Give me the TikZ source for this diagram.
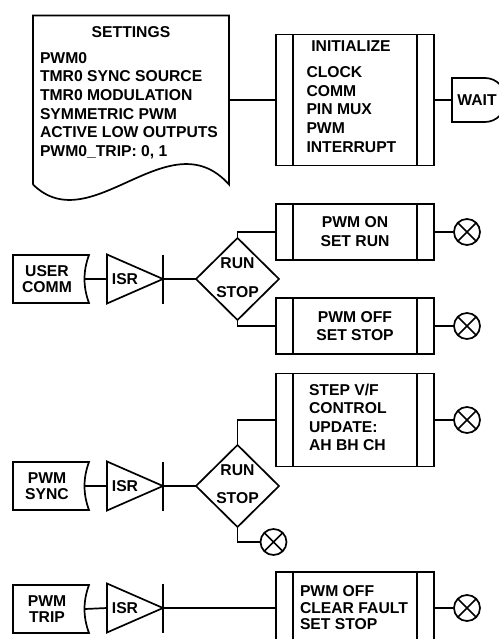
\documentclass[tikz,border=0pt]{standalone}
\usepackage{fontspec}
\setmainfont{Liberation Sans}
\usetikzlibrary{shapes.geometric}

\begin{document}
\begin{tikzpicture}[x=1pt, y=-1pt, line width=1.7pt, every node/.style={inner sep=0pt, outer sep=0pt, font=\fontsize{15.7}{18.6}\selectfont\bfseries}, proc/.style={draw, minimum width=158pt, path picture={\draw ([xshift=17pt]path picture bounding box.north west) -- ([xshift=17pt]path picture bounding box.south west) ([xshift=-17pt]path picture bounding box.north east) -- ([xshift=-17pt]path picture bounding box.south east);}}, tag/.style={minimum width=68pt, minimum height=48pt, align=center, font=\fontsize{15.7}{16.3}\selectfont\bfseries}, isr/.style={draw, isosceles triangle, isosceles triangle stretches, shape border rotate=0, minimum width=49pt, minimum height=56pt, anchor=lower side}, dec/.style={draw, diamond, minimum width=83pt, minimum height=82pt}, endx/.style={draw, circle, minimum size=26pt}]
	\useasboundingbox (0,0) rectangle (498,639);
	\node[minimum width=196pt, minimum height=169pt] (settings) at (131,100) {};
	\draw (settings.south west) -- (settings.north west) -- (settings.north east) -- (settings.south east) .. controls +(-60,-67) and +(58,57) .. (settings.south west);
	\node (sett) at (131,32) {SETTINGS};
	\node[anchor=north west, align=left] (setl) at (40,52.3) {PWM0\\TMR0 SYNC SOURCE\\TMR0 MODULATION\\SYMMETRIC PWM\\ACTIVE LOW OUTPUTS\\PWM0\_TRIP: 0, 1};
	\node[proc, minimum height=131pt] (init) at (355,100) {};
	\node (initt) at (351,46) {INITIALIZE};
	\node[anchor=north west, align=left, font=\fontsize{15.7}{18.75}\selectfont\bfseries] (initl) at (306.5,66.3) {CLOCK\\COMM\\PIN MUX\\PWM\\INTERRUPT};
	\node (wait) at (477,100) {WAIT};
	\draw (452,78) -- (485,78) arc[start angle=-90, end angle=90, x radius=21, y radius=22] -- (452,122) -- cycle;
	\coordinate (waitin) at (452,100);
	\draw (settings.east) -- (init.west);
	\draw (init.east) -- (waitin);
	\node[tag] (ucomm) at (47,279) {USER\\COMM};
	\node[isr] (isr1) at (107,279) {ISR};
	\node[dec] (d1) at (237.5,279) {};
	\node (run1) at (237.5,263) {RUN};
	\node (stop1) at (237.5,292) {STOP};
	\node[proc, minimum height=56pt, align=center, font=\fontsize{15.7}{19}\selectfont\bfseries] (pwmon) at (355,232) {PWM ON\\SET RUN};
	\node[proc, minimum height=56pt, align=center, font=\fontsize{15.7}{18.3}\selectfont\bfseries] (pwmoff) at (355,326) {PWM OFF\\SET STOP};
	\node[endx] (x1) at (467,232) {};
	\node[endx] (x2) at (467,326) {};
	\node[tag] (psync) at (47,486) {PWM\\SYNC};
	\node[isr] (isr2) at (107,486) {ISR};
	\node[dec] (d2) at (237.5,486) {};
	\node (run2) at (237.5,470) {RUN};
	\node (stop2) at (237.5,498.3) {STOP};
	\node[proc, minimum height=93pt] (step) at (355,420) {};
	\node[anchor=north west, align=left, font=\fontsize{15.7}{18.3}\selectfont\bfseries] (stepl) at (309,384.3) {STEP V/F\\CONTROL\\UPDATE:\\AH BH CH};
	\node[endx] (x3) at (467,420) {};
	\node[endx] (x4) at (273.5,542) {};
	\node[tag] (ptrip) at (47,609) {PWM\\TRIP};
	\node[isr] (isr3) at (107,608) {ISR};
	\node[proc, minimum height=72pt] (trip) at (355,608) {};
	\node[anchor=north west, align=left, font=\fontsize{15.7}{16.3}\selectfont\bfseries] (tripl) at (300,586) {PWM OFF\\CLEAR FAULT\\SET STOP};
	\node[endx] (x5) at (467,608) {};
	\foreach \t in {ucomm,psync,ptrip} {\draw (\t.north west) -- ([xshift=8pt]\t.north east) .. controls +(-6,16) and +(-6,-16) .. ([xshift=8pt]\t.south east) -- (\t.south west) -- cycle;}
	\foreach \t in {isr1,isr2,isr3} {\draw (\t.apex |- \t.left corner) -- (\t.apex |- \t.right corner);}
	\foreach \x in {x1,x2,x3,x4,x5} {\draw (\x.north west) -- (\x.south east) (\x.north east) -- (\x.south west);}
	\draw ([xshift=4pt]ucomm.east) -- (isr1.lower side);
	\draw ([xshift=4pt]psync.east) -- (isr2.lower side);
	\draw ([xshift=4pt]ptrip.east) -- (isr3.lower side);
	\draw (isr1.apex) -- (d1.west);
	\draw (isr2.apex) -- (d2.west);
	\draw (isr3.apex) -- (trip.west);
	\draw (d1.north) |- (pwmon.west);
	\draw (d1.south) |- (pwmoff.west);
	\draw (d2.north) |- (step.west);
	\draw (d2.south) |- (x4.west);
	\draw (pwmon.east) -- (x1.west);
	\draw (pwmoff.east) -- (x2.west);
	\draw (step.east) -- (x3.west);
	\draw (trip.east) -- (x5.west);
\end{tikzpicture}
\end{document}
